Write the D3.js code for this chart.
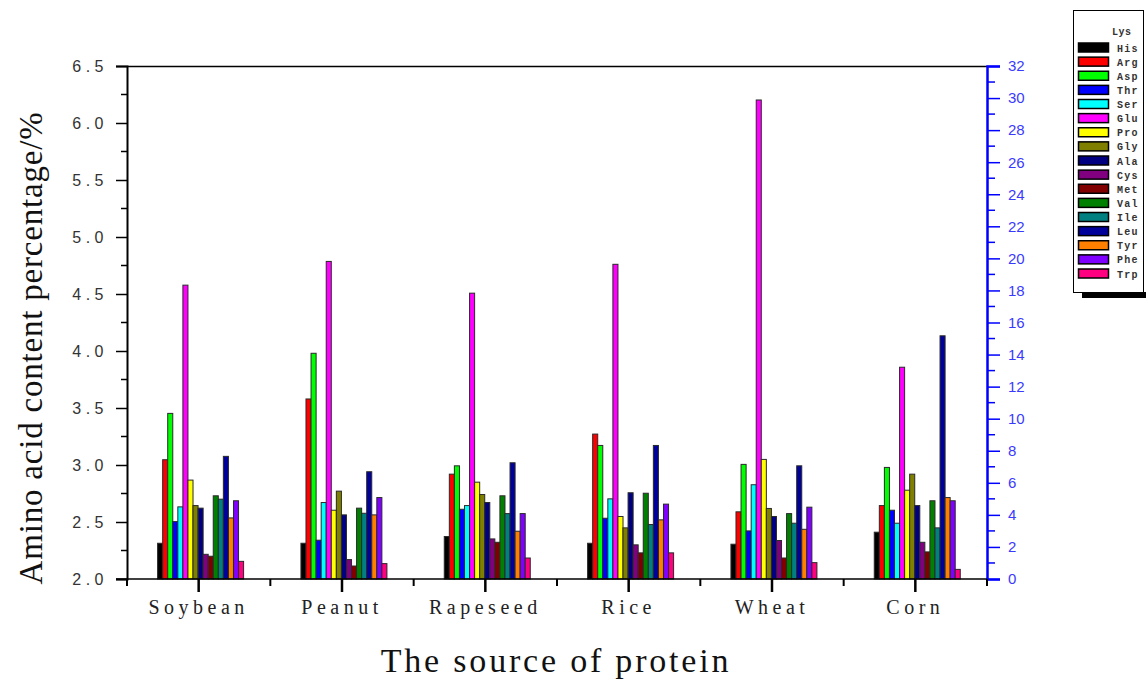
<!DOCTYPE html>
<html>
<head>
<meta charset="utf-8">
<script src="https://cdn.jsdelivr.net/npm/d3@7"></script>
<style>
html,body{margin:0;padding:0;background:#fff;}
svg{display:block;}
</style>
</head>
<body>
<svg id="chart" width="1146" height="681"></svg>
<script>
const categories = ["Soybean","Peanut","Rapeseed","Rice","Wheat","Corn"];
const aminoAcids = ["His","Arg","Asp","Thr","Ser","Glu","Pro","Gly","Ala","Cys","Met","Val","Ile","Leu","Tyr","Phe","Trp"];
const colors = ["#000000","#ff0000","#00ff00","#0000ff","#00ffff","#ff00ff","#ffff00","#808000","#000080","#800080","#800000","#008000","#008080","#00009a","#ff8000","#8000ff","#ff0080"];
// values per source (read on the right axis, %)
const soybean  = [2.23,7.44,10.33,3.58,4.50,18.33,6.17,4.58,4.42,1.54,1.42,5.19,4.98,7.65,3.81,4.88,1.10];
const peanut   = [2.23,11.23,14.08,2.42,4.77,19.81,4.29,5.48,4.00,1.21,0.81,4.42,4.10,6.69,4.00,5.08,0.96];
const rapeseed = [2.65,6.54,7.06,4.35,4.58,17.83,6.04,5.27,4.77,2.50,2.29,5.19,4.08,7.25,2.98,4.08,1.31];
const rice     = [2.23,9.04,8.33,3.79,5.00,19.63,3.90,3.19,5.38,2.13,1.63,5.35,3.40,8.33,3.69,4.67,1.63];
const wheat    = [2.17,4.19,7.15,3.00,5.88,29.88,7.46,4.40,3.90,2.40,1.31,4.08,3.48,7.06,3.10,4.48,1.02];
const corn     = [2.92,4.58,6.96,4.29,3.48,13.21,5.54,6.54,4.58,2.29,1.69,4.88,3.19,15.17,5.08,4.88,0.60];
const seriesBySource = [soybean, peanut, rapeseed, rice, wheat, corn];
const leftTicks = [2.0,2.5,3.0,3.5,4.0,4.5,5.0,5.5,6.0,6.5];
const rightTicks = [0,2,4,6,8,10,12,14,16,18,20,22,24,26,28,30,32];

const svg = d3.select("#chart");
const L = 127, R = 987, T = 66, B = 579;

const x = d3.scaleBand().domain(categories).range([L, R]).padding(0);
const xInner = d3.scaleBand().domain(aminoAcids)
  .range([x.bandwidth() * 0.21, x.bandwidth() * 0.81]).paddingInner(0).paddingOuter(0);
const yR = d3.scaleLinear().domain([0, 32]).range([B, T]);
const yL = d3.scaleLinear().domain([2.0, 6.5]).range([B, T]);

// bars
categories.forEach((c, ci) => {
  const g = svg.append("g").attr("transform", `translate(${x(c)},0)`);
  g.selectAll("rect").data(seriesBySource[ci]).join("rect")
    .attr("x", (d, i) => xInner(aminoAcids[i]) + 0.5)
    .attr("y", d => yR(d))
    .attr("width", xInner.bandwidth())
    .attr("height", d => B - yR(d))
    .attr("fill", (d, i) => colors[i])
    .attr("stroke", "#2a2a2a")
    .attr("stroke-width", 1);
});

// top frame
svg.append("line").attr("x1", L).attr("x2", R).attr("y1", T + 0.5).attr("y2", T + 0.5)
  .attr("stroke", "#000").attr("stroke-width", 1.5);

// left axis
const leftMinor = d3.range(2.25, 6.5, 0.5);
const gL = svg.append("g").attr("transform", `translate(${L},0)`);
gL.selectAll("line.minor").data(leftMinor).join("line")
  .attr("x1", -6).attr("x2", 0).attr("y1", d => yL(d)).attr("y2", d => yL(d))
  .attr("stroke", "#000").attr("stroke-width", 1.5);
const axL = d3.axisLeft(yL).tickValues(leftTicks).tickFormat(d3.format(".1f")).tickSize(11).tickPadding(8);
gL.call(axL);
gL.select(".domain").attr("stroke", "#000").attr("stroke-width", 2);
gL.selectAll(".tick line").attr("stroke", "#000").attr("stroke-width", 1.5);
gL.selectAll(".tick text").attr("font-family", "Liberation Sans, Arial, sans-serif")
  .attr("font-size", 16).attr("fill", "#333").style("letter-spacing", "4.5px");

// right axis
const rightMinor = d3.range(1, 32, 2);
const gR = svg.append("g").attr("transform", `translate(${R},0)`);
gR.selectAll("line.minor").data(rightMinor).join("line")
  .attr("x1", 0).attr("x2", 8).attr("y1", d => yR(d)).attr("y2", d => yR(d))
  .attr("stroke", "#0000ff").attr("stroke-width", 1.5);
const axR = d3.axisRight(yR).tickValues(rightTicks).tickSize(13).tickPadding(8);
gR.call(axR);
gR.select(".domain").attr("stroke", "#0000ff").attr("stroke-width", 2.5);
gR.selectAll(".tick line").attr("stroke", "#0000ff").attr("stroke-width", 1.5);
gR.selectAll(".tick text").attr("font-family", "Liberation Sans, Arial, sans-serif")
  .attr("font-size", 15).attr("fill", "#3a3aff");

// bottom axis
const gB = svg.append("g").attr("transform", `translate(0,${B})`);
gB.append("line").attr("x1", L - 11).attr("x2", R).attr("y1", 0).attr("y2", 0)
  .attr("stroke", "#000").attr("stroke-width", 1.5);
const boundaries = categories.map(c => x(c)).concat([R]);
gB.selectAll("line.minor").data(boundaries).join("line")
  .attr("x1", d => d).attr("x2", d => d).attr("y1", 0).attr("y2", 7)
  .attr("stroke", "#000").attr("stroke-width", 2);
const axB = d3.axisBottom(x).tickSize(13).tickPadding(8);
const gBa = gB.append("g").call(axB);
gBa.select(".domain").remove();
gBa.selectAll(".tick line").attr("stroke", "#000").attr("stroke-width", 2.5);
gBa.selectAll(".tick text").attr("font-family", "Liberation Serif, Times New Roman, serif")
  .attr("font-size", 20).attr("fill", "#222").style("letter-spacing", "4.5px");

// axis titles
svg.append("text").attr("x", 556).attr("y", 672).attr("text-anchor", "middle")
  .attr("font-family", "Liberation Serif, Times New Roman, serif").attr("font-size", 34)
  .style("letter-spacing", "2.8px").attr("fill", "#111").text("The source of protein");
svg.append("text").attr("transform", "translate(42,348) rotate(-90)").attr("text-anchor", "middle")
  .attr("font-family", "Liberation Serif, Times New Roman, serif").attr("font-size", 33)
  .style("letter-spacing", "0.8px").attr("fill", "#111").text("Amino acid content percentage/%");

// legend
const lg = svg.append("g");
lg.append("rect").attr("x", 1082).attr("y", 292).attr("width", 70).attr("height", 6).attr("fill", "#000");
lg.append("rect").attr("x", 1073.5).attr("y", 10.5).attr("width", 70).attr("height", 282)
  .attr("fill", "#fff").attr("stroke", "#000").attr("stroke-width", 1);
lg.append("text").attr("x", 1112).attr("y", 35)
  .attr("font-family", "Liberation Mono, monospace").attr("font-size", 10).attr("font-weight", "bold")
  .style("letter-spacing", "0.5px").attr("fill", "#333").text("Lys");
const rowY = d3.scaleLinear().domain([0, 16]).range([48, 274]);
const rows = lg.selectAll("g.row").data(aminoAcids).join("g").attr("class", "row")
  .attr("transform", (d, i) => `translate(0,${rowY(i)})`);
rows.append("rect").attr("x", 1078.5).attr("y", -5).attr("width", 30).attr("height", 9)
  .attr("fill", (d, i) => colors[i]).attr("stroke", "#000").attr("stroke-width", 1.5);
rows.append("text").attr("x", 1117).attr("y", 3.5)
  .attr("font-family", "Liberation Mono, monospace").attr("font-size", 10).attr("font-weight", "bold")
  .style("letter-spacing", "1.2px").attr("fill", "#333").text(d => d);
</script>
</body>
</html>
